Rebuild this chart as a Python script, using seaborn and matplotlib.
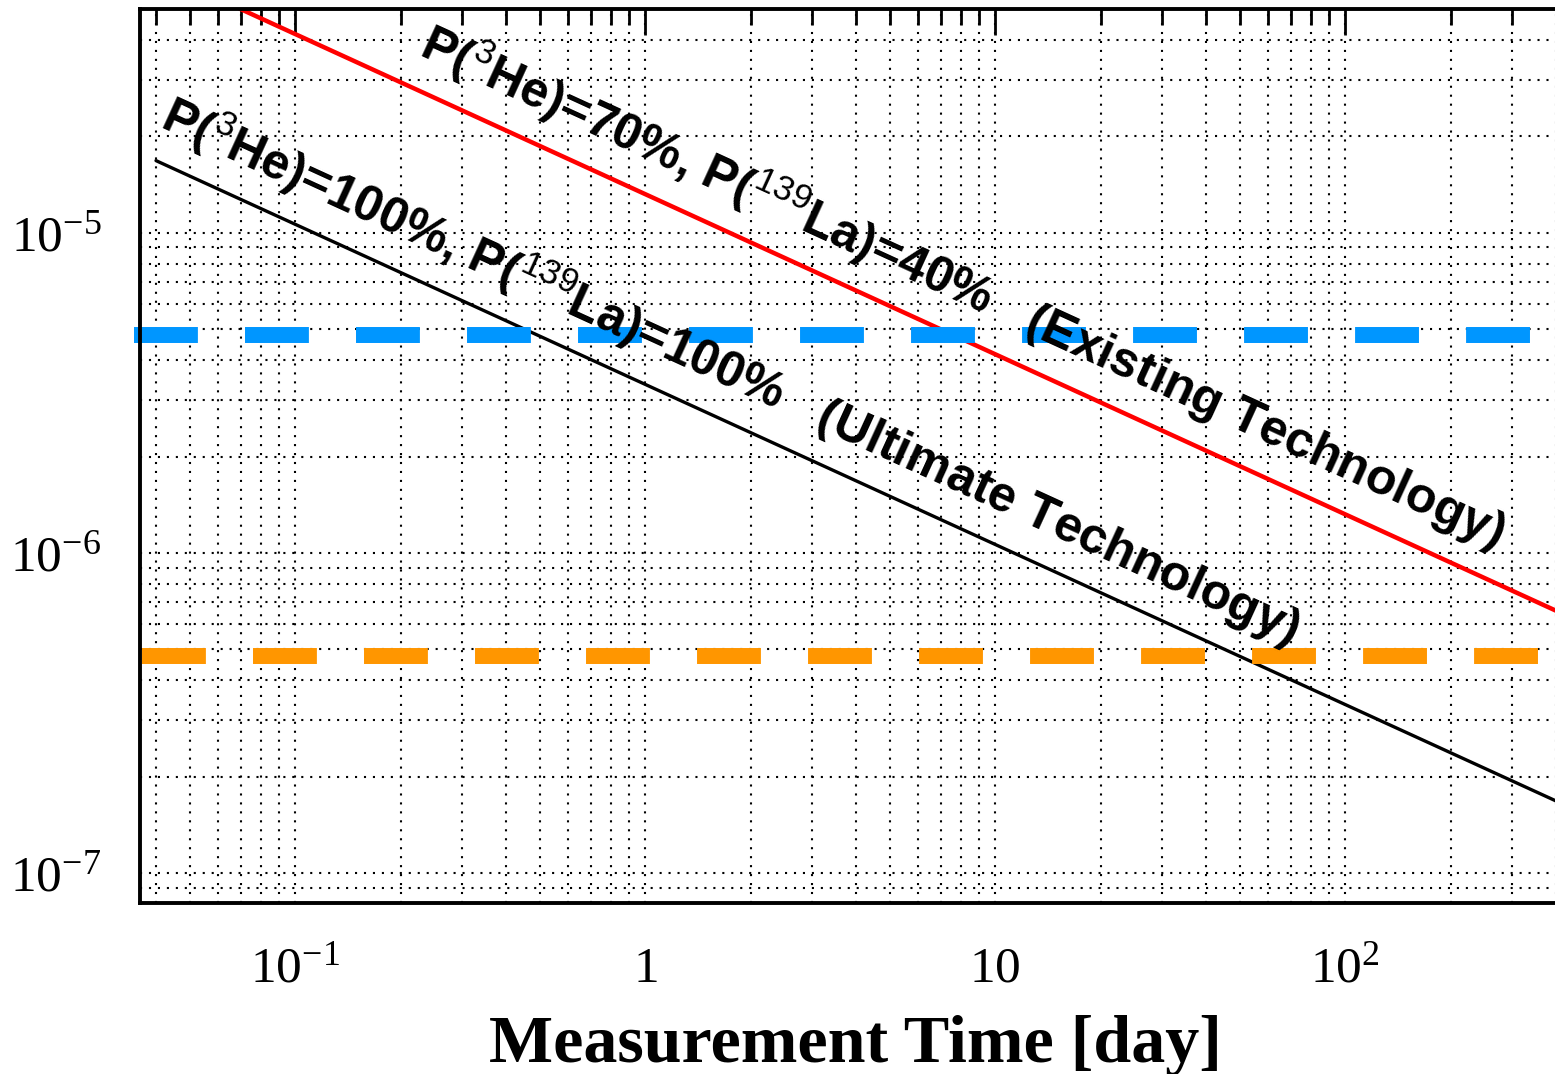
import numpy as np
import seaborn as sns
import matplotlib
matplotlib.use("Agg")
import matplotlib.pyplot as plt
from matplotlib.ticker import LogLocator, NullFormatter, FixedLocator

# data (log-log, slope -1/2)
time_day = [0.04, 400]
ultimate = [1.68e-5, 1.68e-7]     # P(3He)=100%, P(139La)=100%
existing = [6.6e-5, 6.6e-7]       # P(3He)=70%, P(139La)=40%
level_blue = 4.78e-6
level_orange = 4.78e-7
xticks = [0.1, 1, 10, 100]
xtick_labels = [r"$\mathrm{10^{-1}}$", r"$\mathrm{1}$", r"$\mathrm{10}$", r"$\mathrm{10^{2}}$"]
yticks = [1e-7, 1e-6, 1e-5]
ytick_labels = [r"$\mathrm{10^{-7}}$", r"$\mathrm{10^{-6}}$", r"$\mathrm{10^{-5}}$"]

sns.set_style("white")
plt.rcParams['font.family'] = ['Liberation Serif', 'DejaVu Serif']
plt.rcParams['mathtext.fontset'] = 'custom'
plt.rcParams['mathtext.rm'] = 'Liberation Serif'
plt.rcParams['mathtext.sf'] = 'Liberation Sans'
plt.rcParams['text.color'] = 'black'
plt.rcParams['axes.labelcolor'] = 'black'
plt.rcParams['xtick.color'] = 'black'
plt.rcParams['ytick.color'] = 'black'

fig = plt.figure(figsize=(15.55, 10.74), dpi=100)
ax = fig.add_axes([140 / 1555, (1074 - 903) / 1074, 1430 / 1555, 894 / 1074])
ax.set_xscale('log')
ax.set_yscale('log')
ax.set_xlim(0.036, 439)
ax.set_ylim(8.06e-8, 5e-5)

# grid (major + minor, dotted)
ax.grid(True, which='both', color='black', linewidth=1.5, linestyle=(0, (1, 3.3)))
ax.set_axisbelow(True)

sns.lineplot(x=time_day, y=ultimate, color='black', linewidth=2.4, ax=ax)
sns.lineplot(x=time_day, y=existing, color='#ff0000', linewidth=3.2, ax=ax)
ax.plot([0.0345, 439], [level_blue, level_blue], color='#0096ff', linewidth=11.5,
        dashes=(4.0, 2.95), dash_capstyle='butt', clip_on=False)
ax.plot([0.0365, 439], [level_orange, level_orange], color='#ff9600', linewidth=11.5,
        dashes=(4.0, 2.95), dash_capstyle='butt', clip_on=True)

lab_kw = dict(family=['Liberation Sans', 'DejaVu Sans'], fontweight='bold', fontsize=36,
              rotation=-24.6, rotation_mode='anchor', ha='left', va='baseline',
              transform=ax.transAxes, color='black')
ax.text(0.0126, 0.868,
        r"P($\mathsf{^{3}}$He)=100%, P($\mathsf{^{139}}$La)=100%   (Ultimate Technology)", **lab_kw)
ax.text(0.194, 0.9485,
        r"P($\mathsf{^{3}}$He)=70%, P($\mathsf{^{139}}$La)=40%   (Existing Technology)", **lab_kw)

ax.xaxis.set_major_locator(FixedLocator(xticks))
ax.set_xticklabels(xtick_labels)
ax.yaxis.set_major_locator(FixedLocator(yticks))
ax.set_yticklabels(ytick_labels)
ax.xaxis.set_minor_locator(LogLocator(base=10, subs=np.arange(2, 10)))
ax.yaxis.set_minor_locator(LogLocator(base=10, subs=np.arange(2, 10)))
ax.xaxis.set_minor_formatter(NullFormatter())
ax.yaxis.set_minor_formatter(NullFormatter())

ax.tick_params(axis='both', which='both', direction='in', top=True, right=False)
ax.tick_params(axis='x', which='major', length=19, width=2, labelsize=37, pad=31)
ax.tick_params(axis='x', which='minor', length=11.5, width=2)
ax.tick_params(axis='y', which='major', length=30, width=2, labelsize=37, pad=28)
ax.tick_params(axis='y', which='minor', length=13, width=2)

for s in ax.spines.values():
    s.set_linewidth(2.8)
    s.set_color('black')

ax.set_xlabel("Measurement Time [day]", fontsize=49, fontweight='bold', labelpad=16)
ax.set_ylabel("")

fig.savefig("out.png", dpi=100)
